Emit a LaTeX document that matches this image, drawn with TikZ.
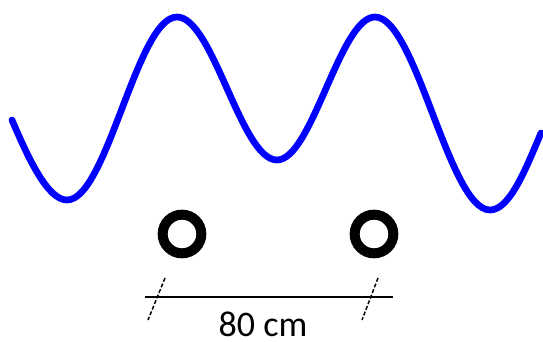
\documentclass[tikz,border=0pt]{standalone}
\usepackage{fontspec}
\usepackage{tikz}
\newfontfamily\labelfont{Carlito}
\tikzset{
	wave/.style      = {draw=blue, line width=5pt, line cap=round},
	ring/.style      = {shape=circle, draw, line width=7.5pt,
		inner sep=0pt, minimum size=29pt},
	dimline/.style   = {draw, line width=1.4pt},
	tickmark/.style  = {draw, line width=1.1pt, dash pattern=on 3pt off 1.5pt},
	dimlabel/.style  = {font=\labelfont\fontsize{27}{30}\selectfont,
		inner sep=0pt, text depth=0pt}
}
\begin{document}
\begin{tikzpicture}
	[
	x = 0.75pt,
	y = -0.75pt
	]
	\useasboundingbox (0,0) rectangle (543,342);
	% wave
	\draw [wave] (12,120)
		.. controls (29,160) and (48,200) .. (67,200)
		.. controls (107,200) and (137,17) .. (177,17)
		.. controls (213,17) and (241,160) .. (277,160)
		.. controls (312,160) and (340,17) .. (375,17)
		.. controls (416,17) and (449,210) .. (490,210)
		.. controls (510,210) and (526,168) .. (541,133);
	% rings
	\node [ring] (ringL) at (182,234) {};
	\node [ring] (ringR) at (374,234) {};
	% distance
	\coordinate (dimL) at (145,297);
	\coordinate (dimR) at (393,297);
	\coordinate (crossL) at (157,297);
	\coordinate (crossR) at (371,297);
	\draw [dimline] (dimL) -- (dimR);
	\draw [tickmark] (crossL) ++(8,-19) -- ++(-17,42);
	\draw [tickmark] (crossR) ++(7,-19) -- ++(-16,42);
	\node [dimlabel, anchor=base] (dist) at (263,336) {80 cm};
\end{tikzpicture}
\end{document}
